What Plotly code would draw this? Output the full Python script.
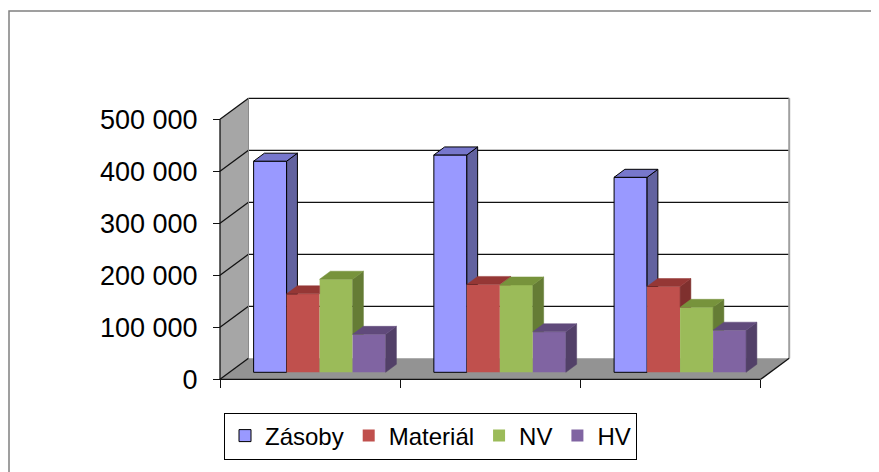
import plotly.graph_objects as go

# ---------------- data ----------------
categories = [0, 1, 2]
series_names = ["Zásoby", "Materiál", "NV", "HV"]
zasoby = [406000, 418000, 375000]
material = [151000, 169000, 165000]
nv = [179000, 168000, 125000]
hv = [73000, 78000, 81000]
tick_values = [0, 100000, 200000, 300000, 400000, 500000]
tick_labels = ["0", "100 000", "200 000", "300 000", "400 000", "500 000"]

series_values = [zasoby, material, nv, hv]

# ---------------- styles ----------------
front_colors = ["#9999FF", "#C0504D", "#9BBB59", "#8064A2"]
top_colors = ["#7777CC", "#953735", "#77933C", "#604A7B"]
side_colors = ["#62629F", "#7F302E", "#657C35", "#524068"]
outline = ["#000000", None, None, None]
FONT = "Liberation Sans, Arial, sans-serif"

OFF = 8                      # page margin of the html body
W, H = 879 - OFF, 472 - OFF
# plot area in page px (converted to figure px by OFF)
PL, PR, PT, PB = 210 - OFF, 796 - OFF, 92 - OFF, 386 - OFF
# front-plane origin (x=-0.5, y=0) and scales
X0px, Y0px = 220.0 - OFF, 379.3 - OFF
kx = 540.7 / 3.0           # px per category
ky = 260.0 / 500000.0      # px per value unit

x_range = [-0.5 + (PL - X0px) / kx, -0.5 + (PR - X0px) / kx]
y_range = [(Y0px - PB) / ky, (Y0px - PT) / ky]

# depth of the floor / walls
DXB = 28.5 / kx
DYB = 21.0 / ky
# bar plane shift (bars sit a third of the way into the floor)
BX0 = DXB / 3.0
BY0 = DYB / 3.0
# bar depth
BDX = 10.8 / kx
BDY = 8.0 / ky
# bar widths
G = 132.0 / kx
w = G / len(series_names)

fig = go.Figure()

# ---------------- bar front faces ----------------
for k, name in enumerate(series_names):
    fig.add_trace(go.Bar(
        x=categories, y=series_values[k], name=name,
        width=w, offset=-G / 2 + k * w,
        marker=dict(color=front_colors[k],
                    line=dict(color=outline[k] or front_colors[k],
                              width=1 if outline[k] else 0)),
        xaxis="x2", yaxis="y2",
        hovertemplate=name + ": %{y:,.0f}<extra></extra>",
    ))

# ---------------- bar side / top faces ----------------
for k, name in enumerate(series_names):
    side_x, side_y, top_x, top_y = [], [], [], []
    for ci, c in enumerate(categories):
        v = series_values[k][ci]
        vn = series_values[k + 1][ci] if k + 1 < len(series_names) else None
        xl = c - G / 2 + k * w
        xr = xl + w
        # side face (part not hidden by the next bar)
        poly = None
        if vn is None:
            poly = [(xr, 0), (xr + BDX, BDY), (xr + BDX, v + BDY), (xr, v)]
        elif vn < v:
            if vn >= BDY:
                poly = [(xr, vn), (xr + BDX, vn), (xr + BDX, v + BDY), (xr, v)]
            else:
                poly = [(xr, vn), (xr + BDX * vn / BDY, vn), (xr + BDX, BDY),
                        (xr + BDX, v + BDY), (xr, v)]
        if poly:
            poly = poly + [poly[0]]
            side_x += [p[0] for p in poly] + [None]
            side_y += [p[1] for p in poly] + [None]
        # top face
        if vn is None or vn <= v:
            poly = [(xl, v), (xr, v), (xr + BDX, v + BDY), (xl + BDX, v + BDY)]
        elif vn >= v + BDY:
            poly = [(xl, v), (xr, v), (xr, v + BDY), (xl + BDX, v + BDY)]
        else:
            xs = xr + BDX * (vn - v) / BDY
            poly = [(xl, v), (xr, v), (xr, vn), (xs, vn),
                    (xr + BDX, v + BDY), (xl + BDX, v + BDY)]
        poly = poly + [poly[0]]
        top_x += [p[0] for p in poly] + [None]
        top_y += [p[1] for p in poly] + [None]
    lc_side = outline[k] or side_colors[k]
    lc_top = outline[k] or top_colors[k]
    fig.add_trace(go.Scatter(
        x=side_x, y=side_y, mode="lines", fill="toself",
        fillcolor=side_colors[k], line=dict(color=lc_side, width=1 if outline[k] else 0.5),
        xaxis="x2", yaxis="y2", showlegend=False, hoverinfo="skip"))
    fig.add_trace(go.Scatter(
        x=top_x, y=top_y, mode="lines", fill="toself",
        fillcolor=top_colors[k], line=dict(color=lc_top, width=1 if outline[k] else 0.5),
        xaxis="x2", yaxis="y2", showlegend=False, hoverinfo="skip"))

# ---------------- walls and floor (chart furniture) ----------------
xa, xb = -0.5, len(categories) - 0.5
ymax = tick_values[-1]
shapes = []
shapes.append(dict(type="path", xref="x", yref="y", layer="below",
                   path=f"M{xa},0 L{xa},{ymax} L{xa+DXB},{ymax+DYB} L{xa+DXB},{DYB} Z",
                   fillcolor="#A6A6A6", line=dict(width=0)))
shapes.append(dict(type="path", xref="x", yref="y", layer="below",
                   path=f"M{xa},0 L{xb},0 L{xb+DXB},{DYB} L{xa+DXB},{DYB} Z",
                   fillcolor="#939393", line=dict(width=0)))
for t in tick_values:
    if t > 0:
        shapes.append(dict(type="line", xref="x", yref="y", layer="below",
                           x0=xa + DXB, x1=xb + DXB, y0=t + DYB, y1=t + DYB,
                           line=dict(color="#111111", width=1.3)))
    shapes.append(dict(type="line", xref="x", yref="y", layer="below",
                       x0=xa, x1=xa + DXB, y0=t, y1=t + DYB,
                       line=dict(color="#111111", width=1.3)))
# back wall side edges
shapes.append(dict(type="line", xref="x", yref="y", layer="below",
                   x0=xb + DXB, x1=xb + DXB, y0=DYB, y1=ymax + DYB,
                   line=dict(color="#A0A0A0", width=2)))
shapes.append(dict(type="line", xref="x", yref="y", layer="below",
                   x0=xa + DXB, x1=xa + DXB, y0=DYB, y1=ymax + DYB,
                   line=dict(color="#8A8A8A", width=1)))
# front edges
shapes.append(dict(type="line", xref="x", yref="y", layer="below",
                   x0=xa, x1=xa, y0=0, y1=ymax, line=dict(color="#111111", width=1.3)))
shapes.append(dict(type="line", xref="x", yref="y", layer="below",
                   x0=xa, x1=xb, y0=0, y1=0, line=dict(color="#111111", width=1.3)))
shapes.append(dict(type="line", xref="x", yref="y", layer="below",
                   x0=xb, x1=xb + DXB, y0=0, y1=DYB, line=dict(color="#111111", width=1.3)))
# outer chart border
pw, ph = PR - PL, PB - PT
shapes.append(dict(type="rect", xref="paper", yref="paper",
                   x0=(1 - PL) / pw, x1=(900 - OFF - PL) / pw,
                   y0=(PB - (490 - OFF)) / ph, y1=(PB - (11 - OFF)) / ph,
                   line=dict(color="#808080", width=1.5), fillcolor="rgba(0,0,0,0)"))

fig.update_layout(
    width=W, height=H,
    margin=dict(l=PL, r=W - PR, t=PT, b=H - PB, pad=0, autoexpand=False),
    paper_bgcolor="white", plot_bgcolor="white",
    font=dict(family=FONT, size=25, color="black"),
    barmode="overlay",
    shapes=shapes,
    hovermode="closest",
    xaxis=dict(range=x_range, anchor="free", position=(PB - Y0px) / ph,
               automargin=False,
               showgrid=False, zeroline=False, showline=False,
               tickmode="array", tickvals=[c - 0.5 for c in categories] + [xb],
               ticks="outside", ticklen=8, tickwidth=1.3, tickcolor="#111111",
               showticklabels=False, fixedrange=True),
    yaxis=dict(range=y_range, anchor="free", position=(X0px - PL) / pw,
               automargin=False,
               showgrid=False, zeroline=False, showline=False,
               tickmode="array", tickvals=tick_values, ticktext=tick_labels,
               ticks="outside", ticklen=7, tickwidth=1.3, tickcolor="#111111",
               ticklabelstandoff=10,
               tickfont=dict(family=FONT, size=27, color="black"), fixedrange=True),
    xaxis2=dict(range=[r - BX0 for r in x_range], overlaying="x", visible=False,
                automargin=False, fixedrange=True),
    yaxis2=dict(range=[r - BY0 for r in y_range], overlaying="y", visible=False,
                automargin=False, fixedrange=True),
    legend=dict(orientation="h", x=(430.5 - OFF - PL) / pw, y=(PB - (436 - OFF)) / ph,
                xanchor="center", yanchor="middle",
                bordercolor="#000000", borderwidth=1, bgcolor="white",
                font=dict(family=FONT, size=24, color="black"),
                traceorder="normal"),
)

fig.write_html("out.html")
